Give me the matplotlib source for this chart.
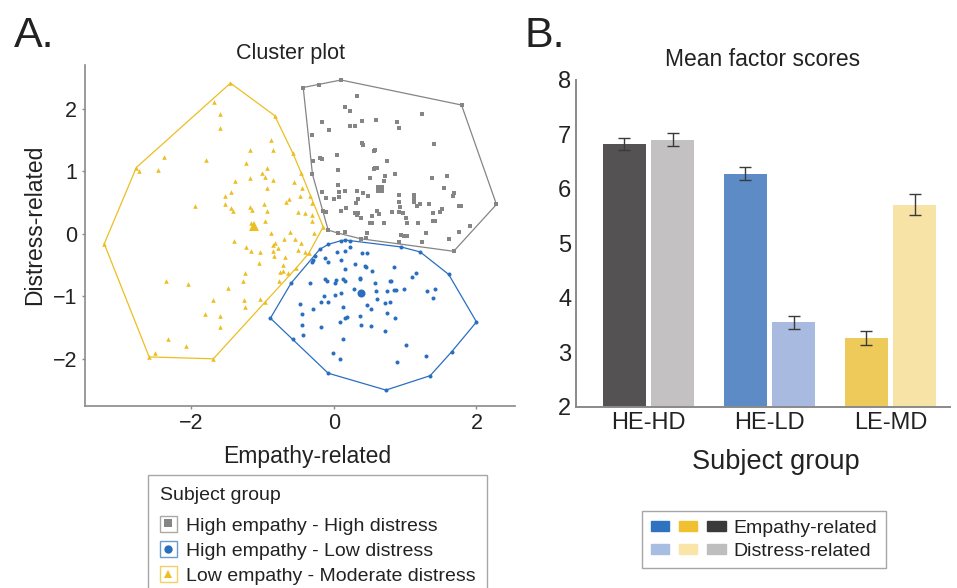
import numpy as np
import matplotlib
matplotlib.use('Agg')
import matplotlib.pyplot as plt
from matplotlib.patches import Rectangle
from matplotlib.lines import Line2D
from matplotlib.legend_handler import HandlerTuple

plt.rcParams['font.family'] = ['Liberation Sans', 'DejaVu Sans']

# ---------------- data: cluster plot ----------------
# Low empathy - Moderate distress (yellow triangles)
lm_x = [-1.45, -0.83, -0.58, -0.46, -0.15, -0.35, -0.53, -0.97, -1.69, -2.59, -3.22, -2.77,
        -1.68, -1.60, -1.60, -0.88, -1.17, -0.85, -2.38, -1.80, -1.23, -2.73, -2.47, -0.94,
        -1.01, -1.17, -0.96, -0.85, -1.39, -0.56, -0.94, -0.44, -1.44, -1.52, -0.63, -0.47,
        -0.67, -0.33, -1.95, -1.53, -0.30, -1.44, -1.42, -1.18, -1.15, -0.98, -0.94, -0.50,
        -0.40, -0.31, -0.96, -1.16, -0.31, -0.61, -0.88, -0.28, -1.40, -0.70, -0.55, -0.46,
        -0.83, -0.86, -0.78, -1.23, -1.16, -1.03, -0.86, -0.50, -0.41, -0.69, -0.84, -1.05,
        -0.71, -1.24, -0.76, -0.71, -0.65, -1.27, -0.77, -2.35, -2.04, -1.48, -1.70, -1.26,
        -1.04, -1.24, -1.81, -1.59, -1.59, -2.33, -2.08, -2.51]
lm_y = [2.41, 1.89, 1.30, 0.98, 0.11, -0.31, -0.55, -1.09, -2.00, -1.97, -0.16, 1.06,
        2.11, 1.91, 1.69, 1.50, 1.34, 1.34, 1.23, 1.18, 1.14, 1.01, 1.02, 1.06,
        0.97, 0.90, 0.91, 0.86, 0.85, 0.83, 0.73, 0.73, 0.67, 0.60, 0.56, 0.60,
        0.51, 0.61, 0.45, 0.47, 0.49, 0.41, 0.37, 0.43, 0.38, 0.48, 0.37, 0.35,
        0.33, 0.30, 0.21, 0.18, 0.20, 0.03, 0.01, 0.02, -0.12, -0.09, -0.08, -0.15,
        -0.15, -0.18, -0.23, -0.21, -0.28, -0.29, -0.28, -0.26, -0.29, -0.37, -0.35, -0.47,
        -0.50, -0.63, -0.61, -0.60, -0.62, -0.75, -0.76, -0.76, -0.81, -0.87, -1.06, -1.06,
        -1.05, -1.17, -1.28, -1.32, -1.49, -1.68, -1.79, -1.90]

# High empathy - High distress (gray squares)
hh_x = [-0.43, -0.21, 0.10, 1.79, 2.28, 1.68, -0.08, -0.31, -0.29, -0.30, -0.15, 0.06,
        0.33, 0.15, 0.23, -0.16, 0.39, 0.59, 0.22, 0.29, -0.07, 0.89, 0.91, 1.23,
        1.41, 0.39, 0.41, 0.58, 0.56, 0.05, -0.19, -0.16, 0.74, 0.06, 0.58, 0.61,
        0.56, 0.86, 0.72, 0.50, 0.70, 1.37, 1.58, 1.55, 1.69, 1.67, 0.06, -0.17,
        -0.11, 0.07, 0.07, 0.00, 0.15, 0.32, 0.41, 0.48, 0.34, 0.31, 0.17, 0.10,
        0.30, 0.34, 0.32, 0.38, 0.54, 0.61, 0.63, 0.50, 0.54, 0.70, 0.82, 0.91,
        0.92, 0.93, 0.91, 0.97, 1.01, 1.02, 1.12, 1.12, 1.13, 1.16, 1.21, 1.18,
        1.33, 1.39, 1.39, 1.42, 1.49, 1.52, 1.76, 1.78, 1.91, 1.75, 1.29, 1.24,
        1.62, 0.91, 0.94, 0.98, 1.02, 0.46, 0.45, 0.38, 0.16, -0.11]
hh_y = [2.34, 2.38, 2.46, 2.06, 0.47, -0.28, 0.06, 1.58, 1.16, 0.95, 0.36, 0.01,
        2.20, 2.03, 1.96, 1.79, 1.81, 1.82, 1.73, 1.73, 1.66, 1.79, 1.70, 1.92,
        1.44, 1.46, 1.42, 1.34, 1.32, 1.26, 1.22, 1.19, 1.17, 1.02, 1.06, 1.05,
        1.03, 0.95, 0.92, 0.89, 0.84, 0.90, 0.93, 0.73, 0.66, 0.60, 0.78, 0.67,
        0.58, 0.67, 0.59, 0.55, 0.68, 0.69, 0.65, 0.61, 0.55, 0.49, 0.42, 0.37,
        0.34, 0.34, 0.30, 0.26, 0.28, 0.36, 0.32, 0.17, 0.17, 0.18, 0.35, 0.62,
        0.51, 0.43, 0.35, 0.33, 0.26, 0.17, 0.62, 0.55, 0.51, 0.44, 0.47, 0.17,
        0.47, 0.34, 0.20, 0.21, 0.35, 0.39, 0.45, 0.44, 0.13, 0.03, 0.01, -0.13,
        -0.08, -0.13, -0.02, -0.04, -0.04, 0.01, -0.07, -0.08, 0.03, 0.35]

# High empathy - Low distress (blue circles)
hl_x = [-0.89, -0.57, -0.08, 0.73, 1.35, 1.65, 2.00, 1.61, 1.21, 0.94, 0.22, 0.16,
        0.10, -0.08, -0.20, -0.29, -0.60,
        -0.27, -0.30, -0.12, -0.08, 0.05, 0.16, 0.22, 0.40, 0.46, 0.10, 0.30, 0.43,
        0.45, 0.15, 0.84, 0.53, -0.12, -0.10, 0.03, 0.13, 0.36, 0.37, 1.15, 1.09,
        -0.33, 0.02, 0.16, 0.58, 0.79, 0.80, 0.28, 0.59, 0.75, 0.84, 0.87, 0.98,
        1.31, 1.42, 1.39, -0.14, 0.02, 0.10, -0.18, -0.08, -0.47, 0.60, 0.72, 0.79,
        0.47, 0.52, 0.13, -0.29, -0.45, 0.74, 0.36, 0.15, 0.18, 0.86, 0.09, -0.44,
        -0.18, 0.38, 0.52, 0.72, -0.43, 0.13, 1.01, -0.01, 1.29, 0.08, 0.89]
hl_y = [-1.35, -1.69, -2.23, -2.50, -2.27, -1.89, -1.41, -0.65, -0.29, -0.21, -0.11, -0.10,
        -0.11, -0.17, -0.25, -0.42, -0.79,
        -0.36, -0.45, -0.39, -0.45, -0.29, -0.27, -0.21, -0.31, -0.30, -0.42, -0.49, -0.51,
        -0.53, -0.57, -0.53, -0.60, -0.72, -0.75, -0.74, -0.73, -0.70, -0.73, -0.63, -0.69,
        -0.78, -0.78, -0.75, -0.79, -0.76, -0.76, -0.88, -0.91, -0.91, -0.90, -0.90, -0.89,
        -0.91, -0.89, -1.03, -0.99, -0.98, -0.95, -1.09, -1.09, -1.12, -1.05, -1.10, -1.09,
        -1.14, -1.21, -1.17, -1.21, -1.28, -1.26, -1.31, -1.34, -1.33, -1.34, -1.41, -1.46,
        -1.49, -1.46, -1.48, -1.56, -1.62, -1.69, -1.78, -1.91, -1.95, -2.00, -2.05]

# cluster centres
center_x = [0.65, 0.38, -1.12]
center_y = [0.71, -0.95, 0.13]

group_labels = ['High empathy - High distress', 'High empathy - Low distress',
                'Low empathy - Moderate distress']

# ---------------- data: bar chart ----------------
bar_groups = ['HE-HD', 'HE-LD', 'LE-MD']
empathy_mean = [6.82, 6.28, 3.26]
empathy_err = [0.11, 0.12, 0.13]
distress_mean = [6.90, 3.55, 5.71]
distress_err = [0.12, 0.12, 0.19]

# ---------------- styles ----------------
c_gray, c_blue, c_yel = '#858585', '#2a6fbf', '#ecbe22'
emp_cols = ['#555253', '#5c8bc6', '#eeca5a']
dis_cols = ['#c3c1c2', '#a8badf', '#f8e3a6']
txt = '#222222'
spine_c = '#8a8a8a'


def hull(xs, ys):
    pts = sorted(set(zip(xs, ys)))

    def cross(o, a, b):
        return (a[0] - o[0]) * (b[1] - o[1]) - (a[1] - o[1]) * (b[0] - o[0])
    lower, upper = [], []
    for p in pts:
        while len(lower) >= 2 and cross(lower[-2], lower[-1], p) <= 0:
            lower.pop()
        lower.append(p)
    for p in reversed(pts):
        while len(upper) >= 2 and cross(upper[-2], upper[-1], p) <= 0:
            upper.pop()
        upper.append(p)
    h = lower[:-1] + upper[:-1]
    h.append(h[0])
    return [p[0] for p in h], [p[1] for p in h]


W, H = 957, 588
fig = plt.figure(figsize=(W / 100, H / 100), dpi=100)

# ---------------- panel A ----------------
axA = fig.add_axes([85 / W, 1 - 405.7 / H, (515 - 85) / W, (405.7 - 65) / H])
groups = [(hh_x, hh_y, c_gray, 's', 2.8), (hl_x, hl_y, c_blue, 'o', 2.9), (lm_x, lm_y, c_yel, '^', 3.3)]
for (gx, gy, col, mk, ms) in groups:
    hx, hy = hull(gx, gy)
    axA.plot(hx, hy, color=col, lw=0.9, zorder=2)
    axA.plot(gx, gy, ls='', marker=mk, ms=ms, color=col, mew=0, zorder=3)
for i, (gx, gy, col, mk, ms) in enumerate(groups):
    axA.plot([center_x[i]], [center_y[i]], ls='', marker=mk, ms=ms * 2.0, color=col, mew=0, zorder=4)

axA.set_xlim(-3.49, 2.54)
axA.set_ylim(-2.75, 2.70)
axA.set_xticks([-2, 0, 2])
axA.set_yticks([-2, -1, 0, 1, 2])
axA.set_xticklabels(['\u22122', '0', '2'])
axA.set_yticklabels(['\u22122', '\u22121', '0', '1', '2'])
for s in ['top', 'right']:
    axA.spines[s].set_visible(False)
for s in ['left', 'bottom']:
    axA.spines[s].set_color(spine_c)
    axA.spines[s].set_linewidth(1.2)
axA.tick_params(colors=spine_c, labelcolor=txt, labelsize=15.5, length=2.5, width=1, pad=3.0)
axA.set_title('Cluster plot', fontsize=15.5, color=txt, pad=4, x=0.479)
axA.set_xlabel('Empathy-related', fontsize=16.5, color=txt)
axA.xaxis.set_label_coords(0.516, -0.115)
axA.set_ylabel('Distress-related', fontsize=16.5, color=txt)
axA.yaxis.set_label_coords(-0.09, 0.53)

handlesA = []
for (gx, gy, col, mk, ms) in groups:
    box = Rectangle((0, 0), 1, 1, facecolor='white', edgecolor=col, alpha=0.7, lw=1)
    mark = Line2D([], [], ls='', marker=mk, ms=6, color=col, mew=0)
    handlesA.append((box, mark))
legA = fig.legend(handlesA, group_labels, title='Subject group', loc='upper left',
                  bbox_to_anchor=(148 / W, 1 - 475 / H), bbox_transform=fig.transFigure,
                  borderaxespad=0, borderpad=0.6, fontsize=14, title_fontsize=14,
                  handlelength=0.88, handleheight=0.88, handletextpad=0.45,
                  labelspacing=0.33, fancybox=False, alignment='left',
                  handler_map={tuple: HandlerTuple(ndivide=1, pad=0)})
legA._legend_box.sep = 9
legA.get_frame().set_edgecolor('#909090')
legA.get_frame().set_linewidth(1.0)
for t in legA.get_texts():
    t.set_color(txt)
legA.get_title().set_color(txt)

# ---------------- panel B ----------------
axB = fig.add_axes([576 / W, 1 - 406.7 / H, (950 - 576) / W, (406.7 - 80) / H])
xpos = np.arange(len(bar_groups))
bw = 0.355
ek = dict(ecolor='#3a3a3a', elinewidth=1.0, capsize=4.2, capthick=1.0)
axB.bar(xpos - 0.2, empathy_mean, bw, color=emp_cols, yerr=empathy_err, error_kw=ek, zorder=2)
axB.bar(xpos + 0.2, distress_mean, bw, color=dis_cols, yerr=distress_err, error_kw=ek, zorder=2)
axB.set_xlim(-0.6, 2.49)
axB.set_ylim(2, 8)
axB.set_xticks(xpos)
axB.set_xticklabels(bar_groups)
axB.set_yticks([2, 3, 4, 5, 6, 7, 8])
for s in ['top', 'right']:
    axB.spines[s].set_visible(False)
for s in ['left', 'bottom']:
    axB.spines[s].set_color(spine_c)
    axB.spines[s].set_linewidth(1.4)
axB.tick_params(length=0, labelsize=17, labelcolor=txt, pad=3.5)
axB.set_title('Mean factor scores', fontsize=16.5, color=txt, pad=10)
axB.set_xlabel('Subject group', fontsize=19.5, color=txt)
axB.xaxis.set_label_coords(0.533, -0.13)

leg_emp = ['#2e72c0', '#f0c030', '#3a3a3a']
leg_dis = ['#a8bde2', '#fae5a9', '#bebebe']
hB = [tuple(Rectangle((0, 0), 1, 1, color=c) for c in leg_emp),
      tuple(Rectangle((0, 0), 1, 1, color=c) for c in leg_dis)]
legB = fig.legend(hB, ['Empathy-related', 'Distress-related'], loc='upper left',
                  bbox_to_anchor=(642 / W, 1 - 511 / H), bbox_transform=fig.transFigure,
                  borderaxespad=0, borderpad=0.45, fontsize=14,
                  handlelength=3.85, handleheight=0.43, handletextpad=0.4,
                  labelspacing=0.3, fancybox=False,
                  handler_map={tuple: HandlerTuple(ndivide=None, pad=0.5)})
legB.get_frame().set_edgecolor('#909090')
legB.get_frame().set_linewidth(1.0)
for t in legB.get_texts():
    t.set_color(txt)

# panel letters
fig.text(14 / W, 1 - 47 / H, 'A.', fontsize=31, color=txt, va='baseline')
fig.text(524 / W, 1 - 47 / H, 'B.', fontsize=31, color=txt, va='baseline')

fig.savefig('out.png', dpi=100, facecolor='white')
